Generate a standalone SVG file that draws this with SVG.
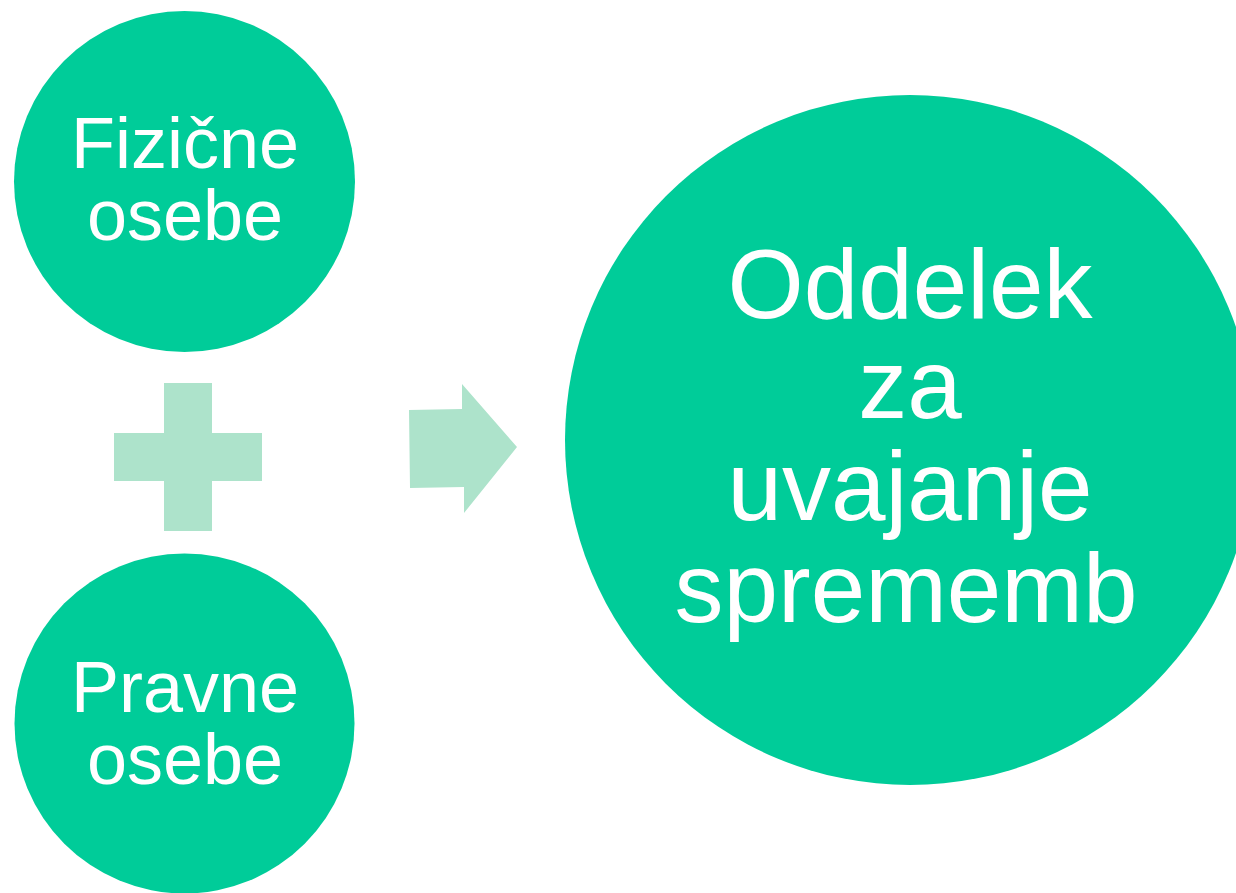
<svg xmlns="http://www.w3.org/2000/svg" width="1236" height="893" viewBox="0 0 1236 893">
<style>
.c{fill:#00CC99}
.s{fill:#ADE3CB}
.t{fill:#FFFFFF;font-family:"Liberation Sans",Arial,sans-serif;text-anchor:middle}
.sm{font-size:72px}
.lg{font-size:98px}
</style>
<rect width="1236" height="893" fill="#FFFFFF"/>
<g id="node-fizicne">
<circle class="c" cx="184.5" cy="181.5" r="170.5"/>
<text class="t sm" x="185" y="168">Fizične</text>
<text class="t sm" x="185" y="240">osebe</text>
</g>
<g id="node-pravne">
<circle class="c" cx="184.5" cy="723.5" r="170"/>
<text class="t sm" x="185" y="712">Pravne</text>
<text class="t sm" x="185" y="784">osebe</text>
</g>
<g id="node-oddelek">
<circle class="c" cx="910" cy="440" r="345"/>
<text class="t lg" x="910" y="318">Oddelek</text>
<text class="t lg" x="910" y="418">za</text>
<text class="t lg" x="910" y="520">uvajanje</text>
<text class="t lg" x="906" y="622">sprememb</text>
</g>
<g id="connectors">
<path class="s" d="M164 383H212V433H262V481H212V531H164V481H114V433H164Z"/>
<polygon class="s" points="409,410 462,409 462,384 517,447 464,513 464,487 410,488"/>
</g>
</svg>
